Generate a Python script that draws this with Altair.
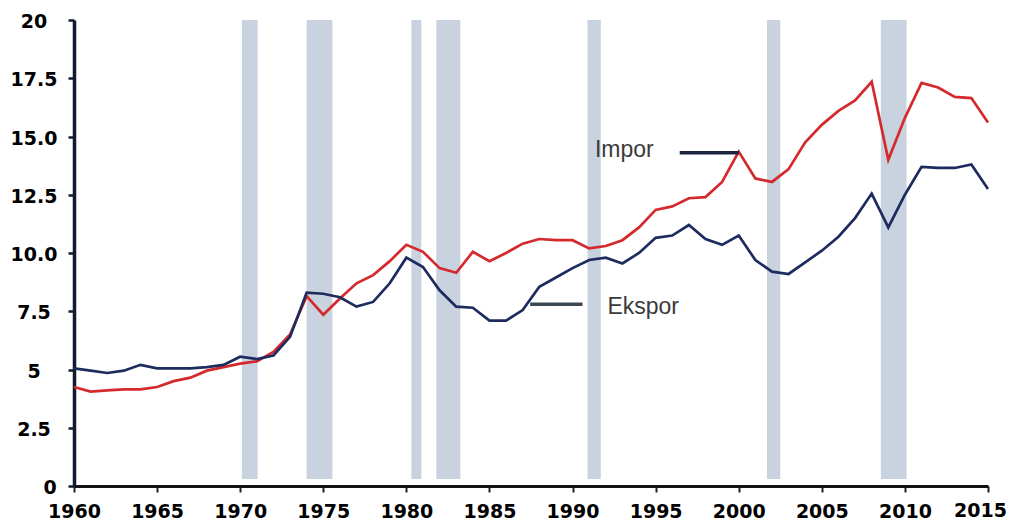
import altair as alt
import pandas as pd

# ---- data ----
years = list(range(1960, 2016))
ekspor = [5.05, 4.95, 4.85, 4.95, 5.2, 5.05, 5.05, 5.05, 5.1, 5.2,
          5.55, 5.45, 5.6, 6.4, 8.3, 8.25, 8.1, 7.7, 7.9, 8.7,
          9.8, 9.4, 8.4, 7.7, 7.65, 7.1, 7.1, 7.55, 8.55, 8.95,
          9.35, 9.7, 9.8, 9.55, 10.0, 10.65, 10.75, 11.2, 10.6, 10.35,
          10.75, 9.7, 9.2, 9.1, 9.6, 10.1, 10.7, 11.5, 12.55, 11.1,
          12.5, 13.7, 13.65, 13.65, 13.8, 12.75]
impor = [4.25, 4.05, 4.1, 4.15, 4.15, 4.25, 4.5, 4.65, 4.95, 5.1,
         5.25, 5.35, 5.75, 6.5, 8.15, 7.35, 8.05, 8.7, 9.05, 9.65,
         10.35, 10.05, 9.35, 9.15, 10.05, 9.65, 10.0, 10.4, 10.6, 10.55,
         10.55, 10.2, 10.3, 10.55, 11.1, 11.85, 12.0, 12.35, 12.4, 13.05,
         14.35, 13.2, 13.05, 13.6, 14.75, 15.5, 16.1, 16.55, 17.35, 14.0,
         15.8, 17.3, 17.1, 16.7, 16.65, 15.6]
series_names = ["Impor", "Ekspor"]
series_colors = ["#d42a2e", "#1d2b5e"]

recession_start = [1970.1, 1974.0, 1980.3, 1981.8, 1990.9, 2001.7, 2008.55]
recession_end = [1971.05, 1975.55, 1980.9, 1983.25, 1991.7, 2002.5, 2010.1]

x_ticks = [1960, 1965, 1970, 1975, 1980, 1985, 1990, 1995, 2000, 2005, 2010, 2015]
y_ticks = [0, 2.5, 5, 7.5, 10, 12.5, 15, 17.5, 20]
y_tick_labels = ["0", "2.5", "5", "7.5", "10.0", "12.5", "15.0", "17.5", "20"]

# annotation leaders / labels (data coordinates)
leader_names = ["Impor", "Ekspor"]
leader_x1 = [1996.45, 1987.45]
leader_x2 = [2000.0, 1990.6]
leader_y = [14.3, 7.8]
leader_colors = ["#1c2540", "#3b4852"]
label_x = [1991.35, 1992.1]
label_y = [14.1, 7.4]

# ---- tables ----
lines_df = pd.DataFrame({
    "year": years * 2,
    "value": impor + ekspor,
    "series": ["Impor"] * len(years) + ["Ekspor"] * len(years),
})
band_df = pd.DataFrame({"start": recession_start, "end": recession_end,
                        "lo": [0.3] * len(recession_start),
                        "hi": [20] * len(recession_start)})
leader_df = pd.DataFrame({"name": leader_names, "x1": leader_x1, "x2": leader_x2,
                          "y": leader_y, "lx": label_x, "ly": label_y})
ylab_df = pd.DataFrame({"v": y_ticks, "label": y_tick_labels})
last_tick_df = pd.DataFrame({"t": [x_ticks[-1]], "label": [str(x_ticks[-1])]})

x_scale = alt.Scale(domain=[1960, 2015], nice=False, zero=False)
y_scale = alt.Scale(domain=[0, 20], nice=False)

TICK_FONT = "DejaVu Sans"
TICK_SIZE = 19
X_PAD = 10

x_axis = alt.Axis(values=x_ticks, format="d", title=None, grid=False,
                  labelExpr=f"datum.value == {x_ticks[-1]} ? '' : datum.label",
                  labelFont=TICK_FONT, labelFontWeight="bold", labelFontSize=TICK_SIZE,
                  labelColor="#000000", labelPadding=X_PAD, labelFlush=False,
                  labelOverlap=False, labelBound=False,
                  tickSize=6, tickWidth=2, tickColor="#222222",
                  domainColor="#111111", domainWidth=3)
y_axis = alt.Axis(values=y_ticks, labels=False, title=None, grid=False,
                  tickSize=6, tickWidth=2.5, tickColor="#111a2e",
                  domainColor="#111a2e", domainWidth=3.5)

bands = alt.Chart(band_df).mark_rect(color="#c9d3e0").encode(
    x=alt.X("start:Q", scale=x_scale, axis=x_axis),
    x2="end:Q",
    y=alt.Y("lo:Q", scale=y_scale, axis=y_axis),
    y2="hi:Q",
)

lines = alt.Chart(lines_df).mark_line(strokeWidth=2.7).encode(
    x=alt.X("year:Q", scale=x_scale, axis=x_axis),
    y=alt.Y("value:Q", scale=y_scale, axis=y_axis),
    color=alt.Color("series:N", scale=alt.Scale(domain=series_names, range=series_colors),
                    legend=None),
    order=alt.Order("year:Q"),
    detail="series:N",
)

leaders = alt.Chart(leader_df).mark_rule(strokeWidth=3.5).encode(
    x=alt.X("x1:Q", scale=x_scale, axis=x_axis), x2="x2:Q",
    y=alt.Y("y:Q", scale=y_scale, axis=y_axis),
    color=alt.Color("name:N", scale=alt.Scale(domain=leader_names, range=leader_colors),
                    legend=None),
)

labels = alt.Chart(leader_df).mark_text(
    align="left", baseline="alphabetic", font="Liberation Sans",
    fontSize=23, color="#3a3a3a"
).encode(x=alt.X("lx:Q", scale=x_scale, axis=x_axis),
         y=alt.Y("ly:Q", scale=y_scale, axis=y_axis), text="name:N")

ytext_style = dict(align="center", baseline="middle", font=TICK_FONT,
                   fontWeight="bold", fontSize=TICK_SIZE, color="#000000", dy=2)
ylabels_main = alt.Chart(ylab_df).transform_filter("datum.v != 0").mark_text(
    **ytext_style).encode(
    x=alt.value(-40),
    y=alt.Y("v:Q", scale=y_scale, axis=y_axis),
    text="label:N",
)
ylabels_zero = alt.Chart(ylab_df).transform_filter("datum.v == 0").mark_text(
    **ytext_style).encode(
    x=alt.value(-24),
    y=alt.Y("v:Q", scale=y_scale, axis=y_axis),
    text="label:N",
)

# last x label, nudged left so it stays inside the page
last_label = alt.Chart(last_tick_df).mark_text(
    align="right", baseline="top", font=TICK_FONT, fontWeight="bold",
    fontSize=TICK_SIZE, color="#000000", dx=19
).encode(
    x=alt.X("t:Q", scale=x_scale, axis=x_axis),
    y=alt.value(466 + 6 + X_PAD),
    text="label:N",
)

chart = alt.layer(bands, lines, leaders, labels, ylabels_main, ylabels_zero,
                  last_label).resolve_scale(
    color="independent"
).properties(
    width=914, height=466,
    padding={"left": 66, "top": 12, "right": 20, "bottom": 36},
    autosize=alt.AutoSizeParams(type="none"),
    background="white",
).configure_view(stroke=None)

chart.save("out.html", embed_options={"renderer": "svg", "actions": False})
